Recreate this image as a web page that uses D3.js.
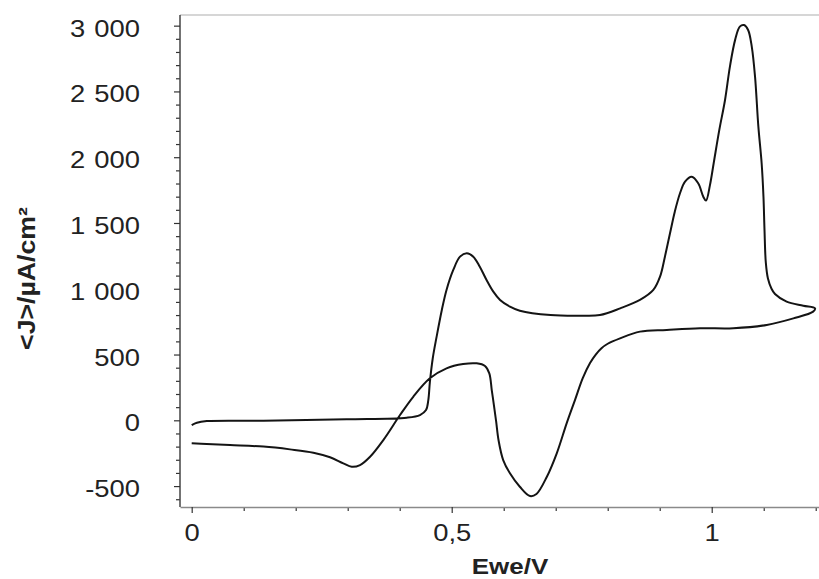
<!DOCTYPE html>
<html>
<head>
<meta charset="utf-8">
<script src="https://cdn.jsdelivr.net/npm/d3@7"></script>
<style>
  html, body { margin: 0; padding: 0; background: #fff; }
  svg { display: block; }
  text { font-family: "Liberation Sans", Arial, sans-serif; fill: #222; }
</style>
</head>
<body>
<script>
// ---- data (cyclic voltammogram) ----
// potential (V) of each sample, in scan order: forward scan then reverse scan
const potential = [
  0.000, 0.010, 0.029, 0.138, 0.298, 0.4135, 0.439, 0.4506, 0.455, 0.458,
  0.4635, 0.471, 0.481, 0.490, 0.503, 0.516, 0.529, 0.5415, 0.554, 0.567,
  0.580, 0.593, 0.612, 0.631, 0.690, 0.750, 0.785, 0.824, 0.862, 0.8877,
  0.9006, 0.910, 0.9198, 0.929, 0.939, 0.9487, 0.9615, 0.974, 0.9838, 0.989,
  0.9967, 1.004, 1.0146, 1.0256, 1.035, 1.045, 1.054, 1.062, 1.070, 1.077,
  1.0833, 1.0897, 1.096, 1.0995, 1.1015, 1.104, 1.108, 1.115, 1.1217, 1.144, 1.176,
  1.1987,
  1.195, 1.157, 1.1058, 1.0415, 0.9775, 0.9135, 0.862, 0.8237, 0.800, 0.788,
  0.777, 0.766, 0.752, 0.737, 0.721, 0.702, 0.683, 0.663, 0.6506, 0.631, 0.612,
  0.599, 0.590, 0.5855, 0.581, 0.577, 0.5723, 0.564, 0.548, 0.522, 0.490,
  0.458, 0.426, 0.4006, 0.3685, 0.343, 0.3237, 0.3077, 0.2915, 0.266, 0.234,
  0.189, 0.138, 0.0737, 0.0288, 0.000
];
// current density (µA/cm²) of each sample
const current = [
  -36, -18, -6, -3, 8, 20, 40, 78, 154, 290,
  470, 636, 839, 991, 1143, 1244, 1270, 1244, 1168, 1067,
  978, 915, 864, 833, 800, 795, 800, 851, 915, 991,
  1092, 1244, 1422, 1586, 1726, 1814, 1852, 1802, 1700, 1670,
  1790, 1960, 2208, 2435, 2689, 2892, 2993, 3005, 2967, 2841,
  2612, 2232, 1954, 1700, 1447, 1200, 1080, 1000, 960, 902, 871,
  851,
  826, 775, 725, 700, 700, 687, 674, 623, 582, 548,
  500, 436, 321, 154, -23, -251, -429, -560, -576, -505, -403,
  -302, -150, -10, 120, 230, 357, 413, 433, 428, 395,
  319, 179, 40, -150, -277, -340, -353, -327, -281, -246,
  -221, -200, -188, -180, -175
];

const xMajorTicks = [0, 0.5, 1];
const xTickLabels = ["0", "0,5", "1"];
const xMinorTicks = [0.1, 0.2, 0.3, 0.4, 0.6, 0.7, 0.8, 0.9, 1.1, 1.2];
const yMajorTicks = [-500, 0, 500, 1000, 1500, 2000, 2500, 3000];
const yTickLabels = ["-500", "0", "500", "1\u2004000", "1\u2004500", "2\u2004000", "2\u2004500", "3\u2004000"];
const yMinorTicks = d3.range(-600, 3001, 100).filter(v => v % 500 !== 0);

const xDomain = [-0.0225, 1.2063];
const yDomain = [-659, 3081];
const xTitle = "Ewe/V";
const yTitle = "<J>/µA/cm²";

// ---- layout ----
const W = 819, H = 579;
const mLeft = 180, mRight = 819, mTop = 15, mBottom = 507;

const svg = d3.select("body").append("svg").attr("width", W).attr("height", H);

const x = d3.scaleLinear().domain(xDomain).range([mLeft, mRight]);
const y = d3.scaleLinear().domain(yDomain).range([mBottom, mTop]);

// top frame line
svg.append("line")
  .attr("x1", mLeft).attr("x2", mRight).attr("y1", mTop).attr("y2", mTop)
  .attr("stroke", "#c8c8c8").attr("stroke-width", 1.5);

// minor ticks
const yMinor = svg.append("g").attr("transform", `translate(${mLeft},0)`)
  .call(d3.axisLeft(y).tickValues(yMinorTicks).tickSize(4).tickFormat(""));
const xMinor = svg.append("g").attr("transform", `translate(0,${mBottom})`)
  .call(d3.axisBottom(x).tickValues(xMinorTicks).tickSize(4).tickFormat(""));
[yMinor, xMinor].forEach(g => {
  g.select(".domain").remove();
  g.selectAll(".tick line").attr("stroke", "#333").attr("stroke-width", 1.2);
});

// major axes
const yAxis = svg.append("g").attr("transform", `translate(${mLeft},0)`)
  .call(d3.axisLeft(y).tickValues(yMajorTicks).tickSize(6).tickSizeOuter(0)
    .tickFormat((d, i) => yTickLabels[i]));
yAxis.select(".domain").attr("stroke", "#444").attr("stroke-width", 1.5)
  .attr("d", `M0,${mTop}V${mBottom}`);
yAxis.selectAll(".tick line").attr("stroke", "#333").attr("stroke-width", 1.2);
yAxis.selectAll(".tick text")
  .attr("x", 0).attr("dy", "0.44em")
  .attr("transform", "translate(-40,0) scale(1.14,1)")
  .style("font-size", "24px").style("fill", "#222");

const xAxis = svg.append("g").attr("transform", `translate(0,${mBottom})`)
  .call(d3.axisBottom(x).tickValues(xMajorTicks).tickSize(6).tickSizeOuter(0)
    .tickFormat((d, i) => xTickLabels[i]));
xAxis.select(".domain").attr("stroke", "#8a8a8a").attr("stroke-width", 1.5);
xAxis.selectAll(".tick line").attr("stroke", "#333").attr("stroke-width", 1.2);
xAxis.selectAll(".tick text")
  .attr("y", 0).attr("dy", 0)
  .attr("transform", "translate(0,34) scale(1.14,1)")
  .style("font-size", "24px").style("fill", "#222");

// curve
const pts = potential.map((v, i) => [v, current[i]]);
const line = d3.line()
  .x(d => x(d[0])).y(d => y(d[1]))
  .curve(d3.curveCatmullRom.alpha(0.5));
svg.append("path")
  .datum(pts)
  .attr("d", line)
  .attr("fill", "none")
  .attr("stroke", "#141414")
  .attr("stroke-width", 2)
  .attr("stroke-linejoin", "round");

// axis titles
svg.append("text")
  .attr("transform", "translate(510,574) scale(1.18,1)")
  .attr("text-anchor", "middle")
  .style("font-size", "22px").style("font-weight", "bold")
  .text(xTitle);

svg.append("text")
  .attr("transform", "translate(35,278.5) rotate(-90) scale(1.16,1)")
  .attr("text-anchor", "middle")
  .style("font-size", "23px").style("font-weight", "bold")
  .text(yTitle);
</script>
</body>
</html>
